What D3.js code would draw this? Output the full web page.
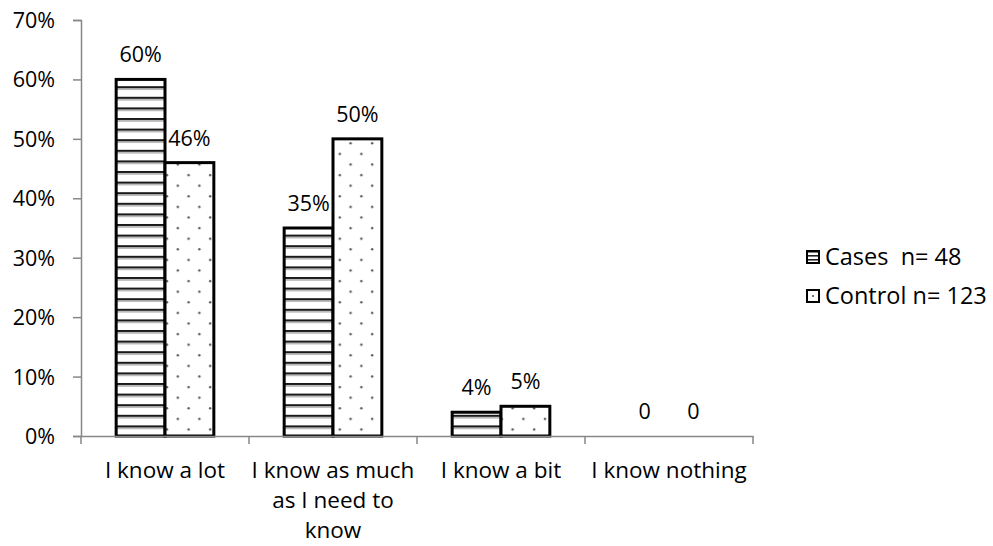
<!DOCTYPE html>
<html>
<head>
<meta charset="utf-8">
<script src="https://cdn.jsdelivr.net/npm/d3@7"></script>
<style>
  html, body { margin: 0; padding: 0; background: #fff; }
  svg { display: block; font-family: "Open Sans", "Noto Sans", sans-serif; }
</style>
</head>
<body>
<svg id="chart" width="993" height="546"></svg>
<script>
// Knowledge level categories (x axis), each wrapped into lines
const categories = ["I know a lot", "I know as much as I need to know", "I know a bit", "I know nothing"];
const categoryLines = [["I know a lot"], ["I know as much", "as I need to", "know"], ["I know a bit"], ["I know nothing"]];

// Series
const seriesNames = ["Cases  n= 48", "Control n= 123"];
const casesValues = [60, 35, 4, 0];
const controlValues = [46, 50, 5, 0];
const casesLabels = ["60%", "35%", "4%", "0"];
const controlLabels = ["46%", "50%", "5%", "0"];

// Y axis ticks
const yTicks = [0, 10, 20, 30, 40, 50, 60, 70];
const yTickLabels = ["0%", "10%", "20%", "30%", "40%", "50%", "60%", "70%"];

const NUM_FONT = 21.5;   // numbers: tick and value labels
const TEXT_FONT = 22.5;  // words: category names
const LEG_FONT = 23.5;   // legend entries
const svg = d3.select("#chart");
const x0 = 81, x1 = 753, yTop = 20, yBot = 436;

const x = d3.scaleBand().domain(categories).range([x0, x1]).paddingInner(0).paddingOuter(0);
const xs = d3.scaleBand().domain([0, 1]).range([0, x.bandwidth()]).paddingInner(0).paddingOuter(0.72);
const y = d3.scaleLinear().domain([0, 70]).range([yBot, yTop]);

const defs = svg.append("defs");
// Horizontal stripe fill
const stripes = defs.append("pattern").attr("id", "stripes")
  .attr("patternUnits", "userSpaceOnUse").attr("width", 8).attr("height", 10.6)
  .attr("y", yBot);
stripes.append("rect").attr("width", 8).attr("height", 10.6).attr("fill", "#fff");
stripes.append("rect").attr("y", 0).attr("width", 8).attr("height", 2.2).attr("fill", "#1a1a1a");
stripes.append("rect").attr("y", 2.2).attr("width", 8).attr("height", 1.6).attr("fill", "#b8b8b8");
// Dotted fill
const dots = defs.append("pattern").attr("id", "dots")
  .attr("patternUnits", "userSpaceOnUse").attr("width", 21.6).attr("height", 21.2)
  .attr("x", 0).attr("y", yBot);
dots.append("rect").attr("width", 21.6).attr("height", 21.2).attr("fill", "#fff");
dots.append("circle").attr("cx", 5).attr("cy", 4).attr("r", 1.2).attr("fill", "#555");
dots.append("circle").attr("cx", 15.8).attr("cy", 14.6).attr("r", 1.2).attr("fill", "#555");
// Small legend swatch fills
const stripesSm = defs.append("pattern").attr("id", "stripesSm")
  .attr("patternUnits", "userSpaceOnUse").attr("width", 4).attr("height", 4).attr("y", 251);
stripesSm.append("rect").attr("width", 4).attr("height", 4).attr("fill", "#fff");
stripesSm.append("rect").attr("width", 4).attr("height", 1.6).attr("fill", "#222");

const axisColor = "#878787";

// Y axis
const yAxis = d3.axisLeft(y).tickValues(yTicks).tickSize(8)
  .tickFormat((d, i) => yTickLabels[i]);
const gy = svg.append("g").attr("transform", `translate(${x0},0)`).call(yAxis);
gy.attr("font-family", null).attr("font-size", null);
gy.select(".domain").attr("stroke", axisColor).attr("stroke-width", 1.5);
gy.selectAll(".tick line").attr("stroke", axisColor).attr("stroke-width", 1.5);
gy.selectAll(".tick text").attr("font-size", NUM_FONT).attr("fill", "#000").attr("x", -26).attr("dy", "0.35em");

// Bars
const series = [
  { name: seriesNames[0], values: casesValues, labels: casesLabels, fill: "url(#stripes)", swatch: "url(#stripesSm)" },
  { name: seriesNames[1], values: controlValues, labels: controlLabels, fill: "url(#dots)", swatch: "#fff" }
];

series.forEach((s, si) => {
  const g = svg.append("g");
  const idx = categories.map((c, i) => i);
  g.selectAll("rect").data(idx.filter(i => s.values[i] > 0))
    .join("rect")
    .attr("x", i => x(categories[i]) + xs(si))
    .attr("y", i => y(s.values[i]))
    .attr("width", xs.bandwidth())
    .attr("height", i => yBot - y(s.values[i]))
    .attr("fill", s.fill)
    .attr("stroke", "#000").attr("stroke-width", 3);
  g.selectAll("text").data(idx).join("text")
    .attr("x", i => x(categories[i]) + xs(si) + xs.bandwidth() / 2)
    .attr("y", i => y(s.values[i]) - 17)
    .attr("text-anchor", "middle").attr("font-size", NUM_FONT).attr("fill", "#000")
    .text(i => s.labels[i]);
});

// X axis
const xAxis = d3.axisBottom(x).tickSize(0).tickFormat("");
const gx = svg.append("g").attr("transform", `translate(0,${yBot})`).call(xAxis);
gx.select(".domain").attr("stroke", axisColor).attr("stroke-width", 1.5);
const bounds = categories.map(c => x(c)).concat([x1]);
gx.selectAll("line.sep").data(bounds).join("line").attr("class", "sep")
  .attr("x1", d => d).attr("x2", d => d).attr("y1", 0).attr("y2", 8)
  .attr("stroke", axisColor).attr("stroke-width", 1.5);

// Category labels
categories.forEach((c, i) => {
  const t = svg.append("text").attr("text-anchor", "middle").attr("font-size", TEXT_FONT).attr("fill", "#000");
  categoryLines[i].forEach((line, li) => {
    t.append("tspan").attr("x", x(c) + x.bandwidth() / 2).attr("y", 478 + li * 30).text(line);
  });
});

// Legend
const legend = svg.append("g");
series.forEach((s, si) => {
  const ly = 257 + si * 39;
  legend.append("rect").attr("x", 807).attr("y", ly - 6).attr("width", 12).attr("height", 12)
    .attr("fill", s.swatch).attr("stroke", "#000").attr("stroke-width", 2);
  if (si === 1) {
    legend.append("circle").attr("cx", 813).attr("cy", ly).attr("r", 1.1).attr("fill", "#555");
  }
  legend.append("text").attr("x", 825).attr("y", ly).attr("dy", "0.35em").attr("font-size", LEG_FONT).attr("fill", "#000")
    .attr("xml:space", "preserve").style("white-space", "pre").text(s.name);
});
</script>
</body>
</html>
